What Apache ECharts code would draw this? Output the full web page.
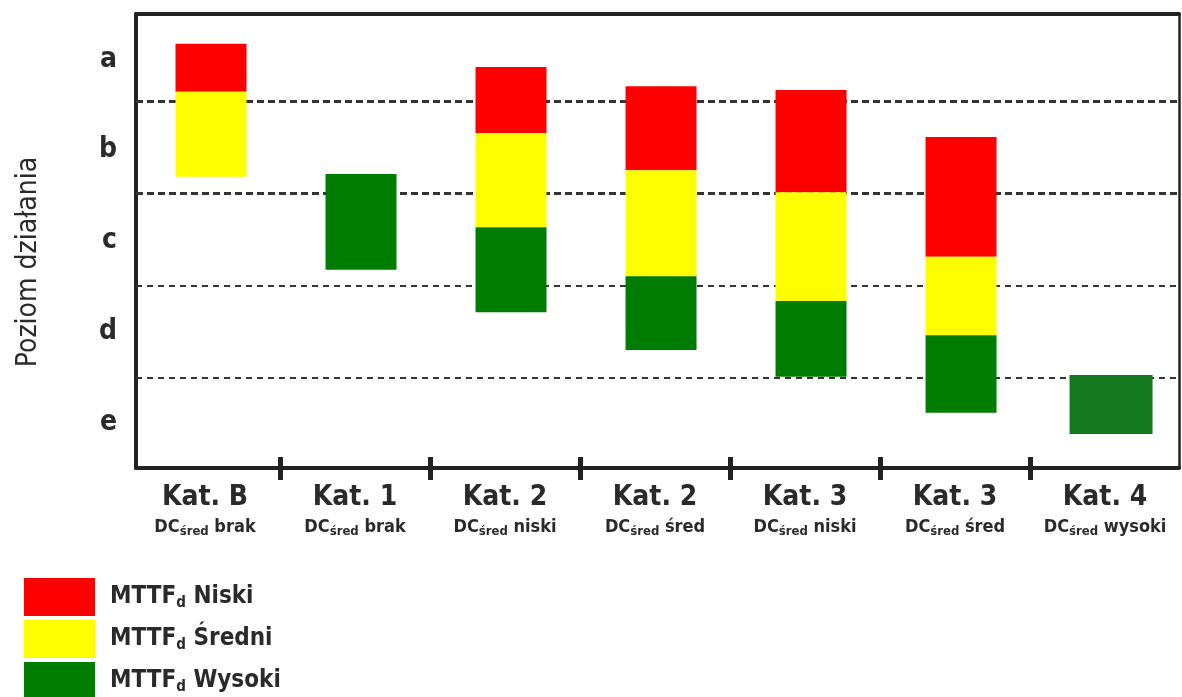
<!DOCTYPE html>
<html>
<head>
<meta charset="utf-8">
<script src="https://cdn.jsdelivr.net/npm/echarts@6/dist/echarts.min.js"></script>
<style>
  html, body { margin: 0; padding: 0; background: #fff; }
  #chart { width: 1182px; height: 697px; }
</style>
</head>
<body>
<div id="chart"></div>
<script>
// Categories along the x axis: safety category and average diagnostic coverage
const categories = ['Kat. B', 'Kat. 1', 'Kat. 2', 'Kat. 2', 'Kat. 3', 'Kat. 3', 'Kat. 4'];
const dcLevels = ['brak', 'brak', 'niski', 'śred', 'niski', 'śred', 'wysoki'];
const categoryPositions = [0, 1, 2, 3, 4, 5, 6];

// Performance levels, top to bottom, and the boundaries between them
const levelLabels = ['a', 'b', 'c', 'd', 'e'];
const levelBounds = [1, 2, 3, 4];

// Each entry: [from, to] in level units (0 = top of "a", 5 = bottom of "e"), null = no bar
const mttfNiski  = [[0.38, 0.90], null, [0.63, 1.35], [0.84, 1.75], [0.88, 1.99], [1.39, 2.69], null];
const mttfSredni = [[0.90, 1.82], null, [1.35, 2.37], [1.75, 2.90], [1.99, 3.17], [2.69, 3.54], null];
const mttfWysoki = [null, [1.79, 2.83], [2.37, 3.29], [2.90, 3.70], [3.17, 3.99], [3.54, 4.38], [3.97, 4.61]];

// Category boundary ticks on the bottom axis
const boundaryTicks = [0.5, 1.5, 2.5, 3.5, 4.5, 5.5];

const FONT = "'Liberation Sans Narrow', 'DejaVu Sans Condensed', 'Open Sans', sans-serif";
const TEXT = '#2a2a2a';
const FRAME = '#222222';
const X_MIN = -0.46;
const X_MAX = 6.493;
const barWidths = [71, 71, 71, 71, 71, 71, 83];
const barShift = 6;
const colorOverride = { 6: '#13791f' };

function toData(ranges) {
  const out = [];
  ranges.forEach((r, i) => { if (r) out.push([categoryPositions[i], r[0], r[1]]); });
  return out;
}

function rangeSeries(name, color, ranges) {
  return {
    name: name,
    type: 'custom',
    xAxisIndex: 0,
    yAxisIndex: 0,
    z: 5,
    itemStyle: { color: color },
    data: toData(ranges),
    encode: { x: 0, y: [1, 2] },
    renderItem: function (params, api) {
      const idx = api.value(0);
      const p0 = api.coord([idx, api.value(1)]);
      const p1 = api.coord([idx, api.value(2)]);
      const w = barWidths[idx];
      const fill = (name === 'Wysoki' && colorOverride[idx]) || api.visual('color');
      return {
        type: 'rect',
        shape: { x: p0[0] - w / 2 + barShift, y: p0[1], width: w, height: p1[1] - p0[1] },
        style: { fill: fill }
      };
    }
  };
}

function frameXAxis(position, width) {
  return {
    type: 'value', position: position, min: X_MIN, max: X_MAX,
    axisLine: { show: true, onZero: false, lineStyle: { color: FRAME, width: width } },
    axisLabel: { show: false },
    axisTick: { show: false },
    splitLine: { show: false }
  };
}

function tickXAxis(inside, length) {
  return {
    type: 'value', position: 'bottom', min: X_MIN, max: X_MAX,
    axisLine: { show: false, onZero: false },
    axisLabel: { show: false },
    splitLine: { show: false },
    axisTick: { show: true, inside: inside, length: length, customValues: boundaryTicks, lineStyle: { color: FRAME, width: 5 } }
  };
}

const chart = echarts.init(document.getElementById('chart'), null, { renderer: 'canvas' });

const option = {
  animation: false,
  backgroundColor: '#ffffff',
  textStyle: { fontFamily: FONT },
  grid: { left: 136, right: 3, top: 14, bottom: 229, containLabel: false },
  legend: {
    orient: 'vertical',
    left: 24,
    top: 578,
    height: 140,
    padding: 0,
    itemWidth: 71,
    itemHeight: 38,
    itemGap: 4,
    icon: 'rect',
    selectedMode: false,
    data: ['Niski', 'Średni', 'Wysoki'],
    formatter: function (name) {
      return '{m|MTTF}{s|d}{m| ' + name + '}';
    },
    textStyle: {
      padding: [0, 0, 0, 10],
      rich: {
        m: { fontFamily: FONT, fontSize: 24, fontWeight: 'bold', color: TEXT },
        s: { fontFamily: FONT, fontSize: 15, fontWeight: 'bold', color: TEXT, padding: [12, 0, 0, 0] }
      }
    }
  },
  xAxis: [
    {
      type: 'value',
      position: 'bottom',
      min: X_MIN,
      max: X_MAX,
      axisLine: { onZero: false, lineStyle: { color: FRAME, width: 4 } },
      axisTick: { show: false },
      splitLine: { show: false },
      axisLabel: {
        margin: 14,
        customValues: categoryPositions,
        formatter: function (value) {
          const i = Math.round(value);
          return '{k|' + categories[i] + '}\n{d|DC}{s|śred}{d| ' + dcLevels[i] + '}';
        },
        rich: {
          k: { fontFamily: FONT, fontSize: 28, fontWeight: 'bold', color: TEXT, lineHeight: 32 },
          d: { fontFamily: FONT, fontSize: 18, fontWeight: 'bold', color: TEXT, lineHeight: 26 },
          s: { fontFamily: FONT, fontSize: 13, fontWeight: 'bold', color: TEXT, lineHeight: 26, padding: [10, 0, 0, 0] }
        }
      }
    },
    tickXAxis(true, 11),
    tickXAxis(false, 12),
    frameXAxis('top', 4)
  ],
  yAxis: [
    {
      type: 'value',
      position: 'left',
      inverse: true,
      min: 0.056,
      max: 4.98,
      name: 'Poziom działania',
      nameLocation: 'middle',
      nameRotate: 90,
      nameGap: 93,
      nameTextStyle: { fontFamily: FONT, fontSize: 28, color: TEXT, padding: [0, 42, 0, 0] },
      axisLine: { show: true, onZero: false, lineStyle: { color: FRAME, width: 4 } },
      axisLabel: { show: false },
      axisTick: { show: false },
      splitLine: { show: false }
    },
    {
      type: 'category',
      position: 'left',
      inverse: true,
      data: levelLabels,
      axisLine: { show: false, onZero: false },
      axisTick: { show: false },
      splitLine: { show: false },
      axisLabel: { margin: 19, fontFamily: FONT, fontSize: 28, fontWeight: 'bold', color: TEXT }
    },
    {
      type: 'value',
      position: 'right',
      min: 0, max: 5,
      axisLine: { show: true, onZero: false, lineStyle: { color: FRAME, width: 2.5 } },
      axisLabel: { show: false },
      axisTick: { show: false },
      splitLine: { show: false }
    }
  ],
  series: [
    {
      type: 'line',
      xAxisIndex: 0,
      yAxisIndex: 0,
      data: [],
      silent: true,
      z: 1,
      markLine: {
        silent: true,
        symbol: ['none', 'none'],
        label: { show: false },
        data: levelBounds.map((v, i) => ({
          yAxis: v,
          lineStyle: {
            color: '#333333',
            type: i < 2 ? [7, 4] : [6, 5],
            width: i < 2 ? 3 : 2
          }
        }))
      }
    },
    rangeSeries('Niski', '#ff0000', mttfNiski),
    rangeSeries('Średni', '#ffff00', mttfSredni),
    rangeSeries('Wysoki', '#007d00', mttfWysoki)
  ]
};

chart.setOption(option);
</script>
</body>
</html>
